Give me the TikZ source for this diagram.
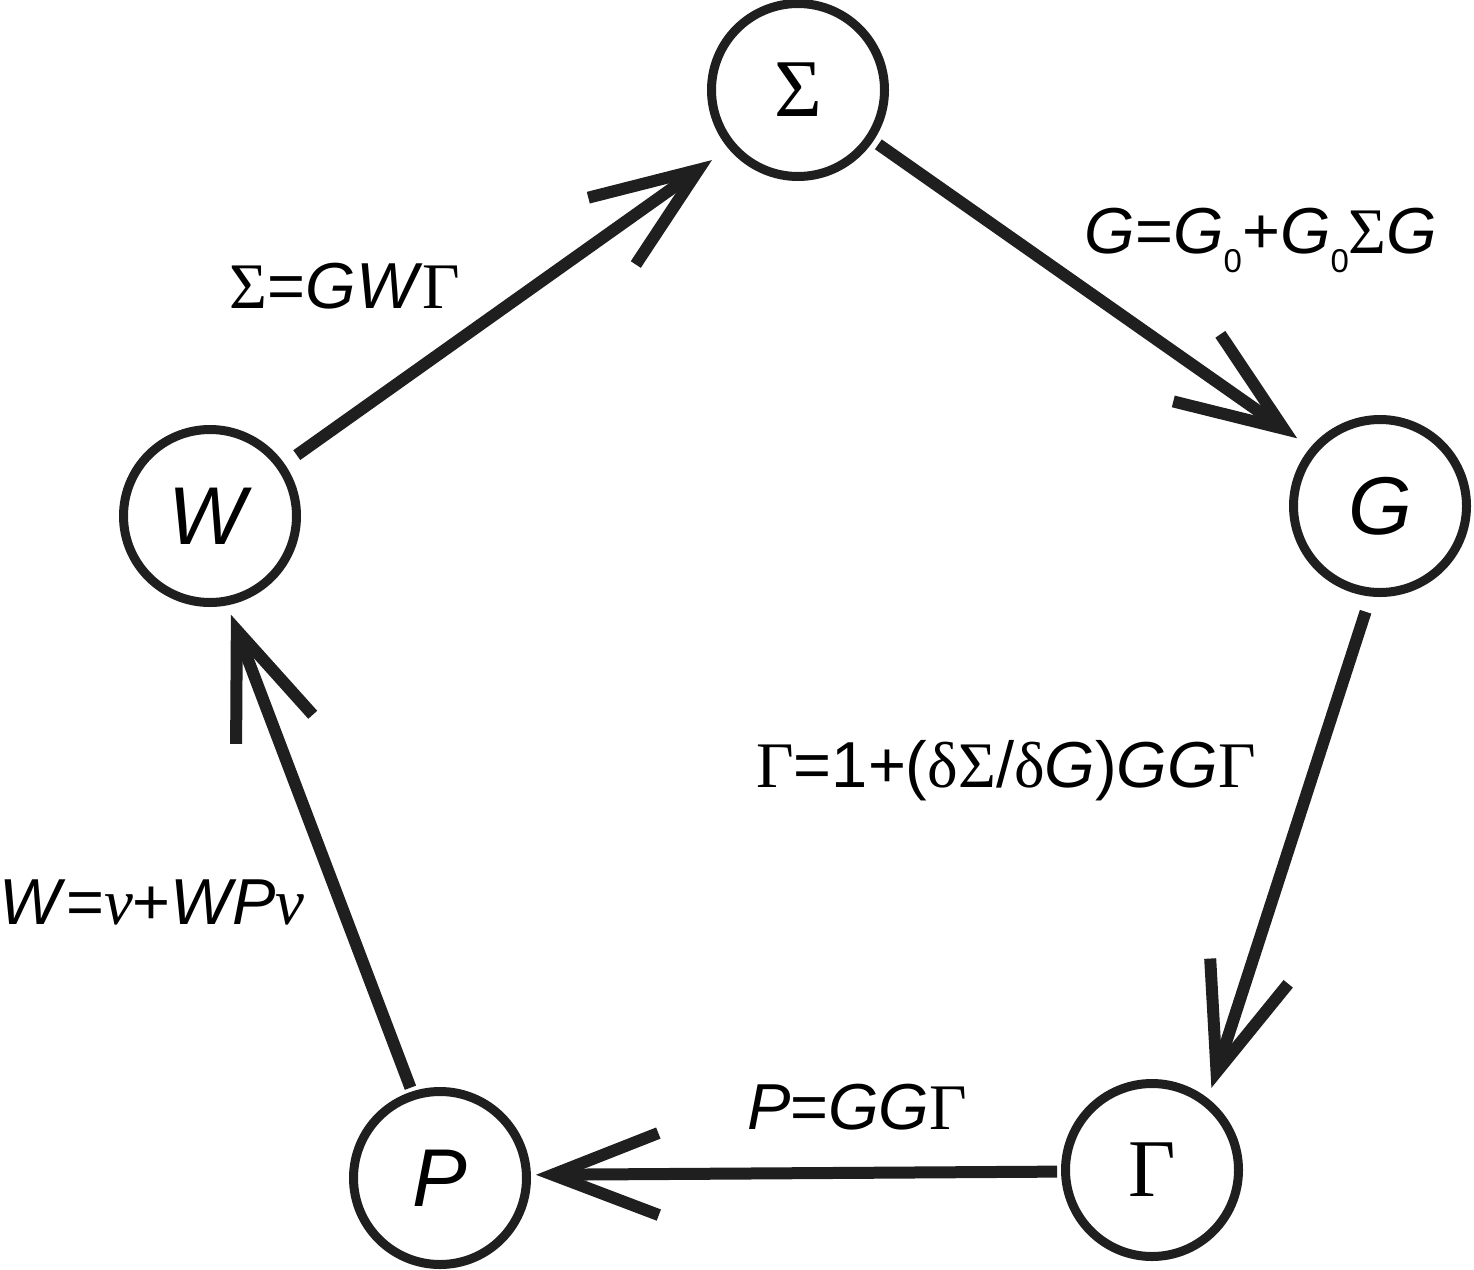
\documentclass[tikz,border=0pt]{standalone}
\usepackage{fontspec}
\setmainfont{Liberation Sans}
\newfontfamily\grk{Liberation Serif}
\usetikzlibrary{arrows.meta}
\begin{document}
\begin{tikzpicture}[x=1pt,y=-1pt,
  state/.style={circle, draw=black!88, line width=9pt, minimum size=173pt, inner sep=0pt,
    font=\fontsize{82}{90}\selectfont},
  arr/.style={draw=black!88, line width=12pt, -{Straight Barb[length=106pt,width=82pt]}},
  eq/.style={font=\fontsize{65}{72}\selectfont, inner sep=0pt}]
\useasboundingbox (0,0) rectangle (1474,1269);
\node[state] (S) at (798,90) {{\grk Σ}};
\node[state] (G) at (1380,506) {\textit{G}};
\node[state] (Ga) at (1152,1170) {{\grk Γ}};
\node[state] (P) at (440,1178) {\textit{P}};
\node[state] (W) at (210,516) {\textit{W}};

\draw[arr, shorten <=15pt, shorten >=20pt] (W.35) -- (S.220);
\draw[arr, shorten <=6pt, shorten >=16pt] (S.-34.5) -- (G.140);
\draw[arr, shorten <=16pt, shorten >=11pt] (G.-96) -- (Ga.52);
\draw[arr, shorten <=4pt, shorten >=5pt] (Ga.181) -- (P.2);
\draw[arr, shorten <=4pt, shorten >=10pt] (P.108) -- (W.-79);

\node[eq] (l1) at (345,286) {{\grk Σ}=\textit{GW}{\grk Γ}};
\node[eq, anchor=base] (l2) at (1261,253) {\textit{G}=\textit{G}\raisebox{-19pt}{\fontsize{33}{33}\selectfont 0}+\textit{G}\raisebox{-19pt}{\fontsize{33}{33}\selectfont 0}{\grk Σ}\textit{G}};
\node[eq] (l3) at (1006,771) {{\grk Γ}=1+({\grk δΣ}/{\grk δ}\textit{G})\textit{GG}{\grk Γ}};
\node[eq] (l4) at (152,902) {\textit{W}={\grk\itshape ν}+\textit{WP}{\grk\itshape ν}};
\node[eq] (l5) at (857,1107) {\textit{P}=\textit{GG}{\grk Γ}};
\end{tikzpicture}
\end{document}
